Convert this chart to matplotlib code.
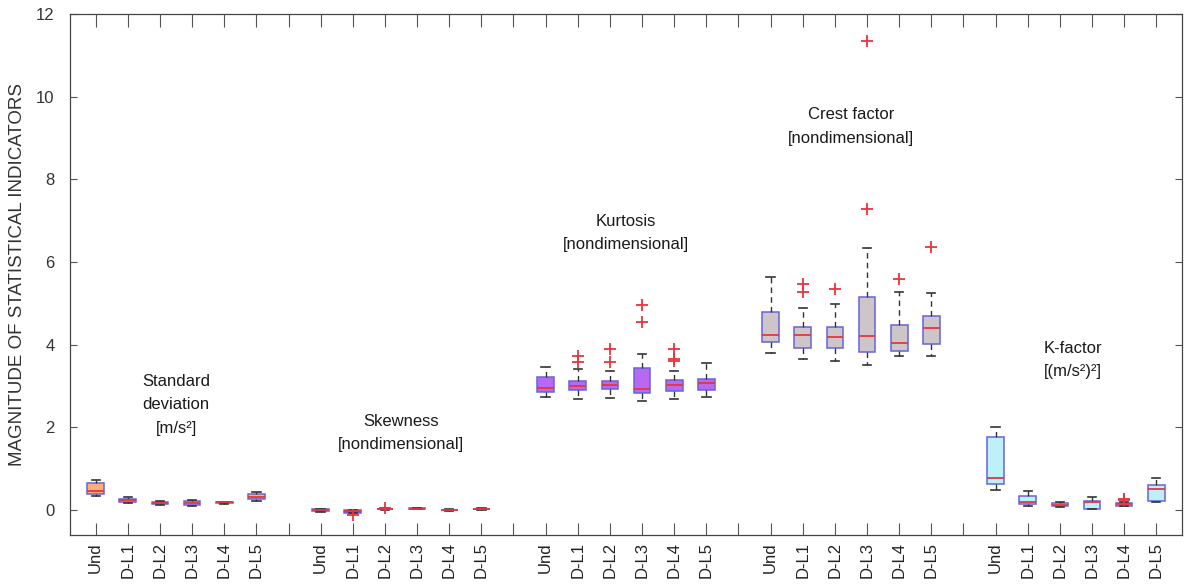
import matplotlib.pyplot as plt

plt.rcParams["font.family"] = ["Liberation Sans", "DejaVu Sans"]

# Box statistics per indicator: (whisker low, q1, median, q3, whisker high)
labels = ["Und", "D-L1", "D-L2", "D-L3", "D-L4", "D-L5"]

std_dev = [(0.35, 0.40, 0.47, 0.66, 0.72), (0.18, 0.20, 0.25, 0.28, 0.31),
           (0.13, 0.14, 0.17, 0.20, 0.22), (0.10, 0.12, 0.17, 0.22, 0.25),
           (0.16, 0.17, 0.19, 0.20, 0.21), (0.22, 0.27, 0.33, 0.40, 0.43)]
std_dev_out = [[], [], [], [], [], []]

skewness = [(-0.04, -0.02, 0.00, 0.02, 0.03), (-0.08, -0.06, -0.03, 0.00, 0.01),
            (0.01, 0.02, 0.03, 0.04, 0.05), (0.02, 0.03, 0.04, 0.05, 0.06),
            (-0.01, 0.00, 0.00, 0.01, 0.02), (0.01, 0.02, 0.03, 0.04, 0.05)]
skewness_out = [[], [-0.11], [0.05], [], [], []]

kurtosis = [(2.74, 2.86, 2.96, 3.21, 3.47), (2.69, 2.90, 3.00, 3.13, 3.41),
            (2.72, 2.92, 3.02, 3.12, 3.36), (2.65, 2.84, 2.94, 3.43, 3.77),
            (2.69, 2.88, 3.02, 3.16, 3.36), (2.74, 2.90, 3.07, 3.17, 3.55)]
kurtosis_out = [[], [3.72, 3.58], [3.89, 3.59], [4.97, 4.56],
                [3.89, 3.65, 3.61], []]

crest = [(3.79, 4.06, 4.23, 4.80, 5.64), (3.65, 3.93, 4.23, 4.44, 4.88),
         (3.61, 3.93, 4.18, 4.44, 4.98), (3.52, 3.83, 4.21, 5.15, 6.35),
         (3.73, 3.85, 4.05, 4.49, 5.27), (3.73, 4.01, 4.40, 4.70, 5.26)]
crest_out = [[], [5.46, 5.28], [5.34], [7.28, 11.35], [5.58], [6.37]]

k_factor = [(0.48, 0.63, 0.78, 1.76, 2.00), (0.10, 0.14, 0.20, 0.34, 0.47),
            (0.08, 0.09, 0.12, 0.17, 0.20), (0.03, 0.04, 0.20, 0.22, 0.32),
            (0.10, 0.11, 0.15, 0.18, 0.20), (0.20, 0.22, 0.52, 0.62, 0.78)]
k_factor_out = [[], [], [], [], [0.24, 0.28], []]

indicators = [
    (std_dev, std_dev_out, "#ffb07a", "Standard\ndeviation\n[m/s²]", 3.5, 2.55),
    (skewness, skewness_out, "#7a3fd0", "Skewness\n[nondimensional]", 10.5, 1.87),
    (kurtosis, kurtosis_out, "#b968f2", "Kurtosis\n[nondimensional]", 17.5, 6.7),
    (crest, crest_out, "#cdc5c8", "Crest factor\n[nondimensional]", 24.5, 9.28),
    (k_factor, k_factor_out, "#bdf0f8", "K-factor\n[(m/s²)²]", 31.4, 3.63),
]

fig = plt.figure(figsize=(11.84, 5.87), dpi=100)
ax = fig.add_axes([0.0591, 0.0886, 0.9392, 0.8875])

tick_pos = []
tick_lab = []
pos = 1
for stats_rows, outliers, color, title, tx, ty in indicators:
    stats = []
    for lab, row, out in zip(labels, stats_rows, outliers):
        lo, q1, med, q3, hi = row
        stats.append({"label": lab, "whislo": lo, "q1": q1, "med": med,
                      "q3": q3, "whishi": hi, "fliers": out})
    positions = list(range(pos, pos + len(stats)))
    ax.bxp(stats, positions=positions, widths=0.52, capwidths=0.26,
           patch_artist=True, manage_ticks=False,
           boxprops=dict(facecolor=color, edgecolor="#6464dc", linewidth=1.1),
           medianprops=dict(color="#e8343c", linewidth=1.3),
           whiskerprops=dict(color="#333333", linewidth=1.0, linestyle=(0, (4, 3))),
           capprops=dict(color="#333333", linewidth=1.2),
           flierprops=dict(marker="+", markeredgecolor="#e8343c",
                           markersize=8, markeredgewidth=1.3))
    ax.text(tx, ty, title, ha="center", va="center", fontsize=12,
            color="#1a1a1a", linespacing=1.7)
    tick_pos += positions + [pos + len(stats)]
    tick_lab += labels + [""]
    pos += len(stats) + 1

tick_pos = tick_pos[:-1]
tick_lab = tick_lab[:-1]

ax.set_xlim(0.2, 34.8)
ax.set_ylim(-0.6, 12)
ax.set_xticks(tick_pos)
ax.set_xticklabels(tick_lab, rotation=90, fontsize=12, color="#222222")
ax.set_yticks(range(0, 13, 2))
ax.tick_params(axis="y", labelsize=12, labelcolor="#333333", direction="in",
               length=5, right=True, color="#555555", pad=11)
ax.tick_params(axis="x", direction="in", length=9, top=True, color="#555555",
               pad=5)
for sp in ax.spines.values():
    sp.set_color("#444444")
    sp.set_linewidth(0.9)

ax.set_ylabel("MAGNITUDE OF STATISTICAL INDICATORS", fontsize=13.5,
              color="#333333", labelpad=7)

plt.savefig("out.png", dpi=100)
